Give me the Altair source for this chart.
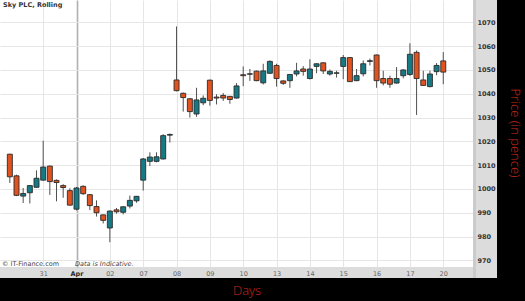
import altair as alt
import pandas as pd

# ---- data ----
opens = [1014.6, 1005.5, 997.0, 998.4, 1000.7, 1003.7, 1009.6, 1003.6, 1001.4, 999.3,
         991.5, 1001.1, 997.6, 992.6, 989.1, 983.6, 991.2, 990.2, 992.8, 995.0,
         1003.7, 1011.6, 1011.6, 1012.6, 1022.6, 1045.8, 1040.2, 1037.9, 1031.5, 1036.2,
         1045.7, 1038.6, 1039.3, 1038.9, 1038.2, 1048.0, 1048.2, 1049.5, 1044.6, 1048.6,
         1051.9, 1045.4, 1045.5, 1048.3, 1050.4, 1046.4, 1051.5, 1053.0, 1048.3, 1048.6,
         1051.5, 1055.2, 1045.5, 1048.4, 1053.6, 1056.3, 1046.4, 1046.4, 1044.5, 1047.6,
         1048.1, 1057.4, 1045.8, 1043.0, 1049.3, 1053.8]
highs = [1014.8, 1006.0, 1000.4, 1001.6, 1007.8, 1020.3, 1009.8, 1004.0, 1002.0, 1000.3,
         1000.8, 1001.5, 997.8, 995.2, 989.3, 991.0, 992.0, 992.7, 997.2, 997.0,
         1013.0, 1015.4, 1015.4, 1023.0, 1023.3, 1068.3, 1040.5, 1038.2, 1042.5, 1039.3,
         1046.0, 1039.8, 1040.3, 1039.1, 1044.5, 1051.5, 1050.4, 1049.7, 1052.6, 1054.0,
         1052.6, 1045.6, 1048.3, 1053.0, 1051.6, 1054.5, 1052.8, 1053.2, 1050.2, 1049.7,
         1056.3, 1055.4, 1050.4, 1054.0, 1054.8, 1056.5, 1049.7, 1047.6, 1051.2, 1050.3,
         1061.2, 1058.2, 1049.7, 1049.7, 1052.9, 1057.5]
lows = [1002.5, 997.0, 994.1, 993.9, 1000.5, 1003.5, 997.5, 994.8, 996.3, 993.0,
        991.0, 997.5, 991.1, 988.4, 985.5, 977.6, 989.6, 989.3, 991.8, 994.2,
        999.3, 1009.6, 1011.2, 1012.4, 1019.5, 1041.0, 1032.5, 1030.0, 1030.3, 1035.2,
        1035.0, 1035.5, 1037.0, 1035.8, 1038.0, 1043.2, 1045.4, 1045.3, 1043.9, 1048.4,
        1043.0, 1043.7, 1042.5, 1047.3, 1047.6, 1046.0, 1048.6, 1048.3, 1047.6, 1046.8,
        1046.1, 1045.0, 1045.3, 1047.3, 1051.9, 1042.5, 1043.5, 1042.5, 1044.3, 1046.5,
        1047.5, 1031.1, 1043.3, 1042.7, 1047.8, 1044.0]
closes = [1005.1, 997.3, 998.1, 1001.4, 1004.5, 1009.2, 1003.1, 1002.7, 1000.6, 993.2,
          1000.4, 998.0, 993.0, 990.0, 986.8, 990.7, 990.4, 992.5, 995.2, 996.9,
          1012.6, 1013.4, 1013.5, 1022.4, 1022.9, 1041.3, 1038.4, 1032.5, 1037.4, 1038.1,
          1037.2, 1038.2, 1038.2, 1037.6, 1043.3, 1047.6, 1048.4, 1045.5, 1049.6, 1053.6,
          1046.4, 1044.4, 1048.1, 1049.6, 1049.4, 1050.4, 1052.6, 1049.6, 1049.4, 1048.8,
          1055.2, 1045.1, 1047.6, 1052.6, 1053.9, 1045.5, 1044.5, 1044.0, 1046.4, 1050.0,
          1056.6, 1046.4, 1043.5, 1048.3, 1051.9, 1049.1]

tick_idx = [5, 10, 15, 20, 25, 30, 35, 40, 45, 50, 55, 60, 65]
tick_labels = ["31", "Apr", "02", "07", "08", "09", "10", "13", "14", "15", "16", "17", "20"]
month_tick = 10
price_ticks = [970, 980, 990, 1000, 1010, 1020, 1030, 1040, 1050, 1060, 1070]

title_text = "Sky PLC, Rolling"
footer_left = "\u00a9 IT-Finance.com"
footer_right = "Data is Indicative."
y_title = "Price (in pence)"
x_title = "Days"

# ---- tables ----
df = pd.DataFrame({
    "i": list(range(len(opens))),
    "open": opens, "high": highs, "low": lows, "close": closes,
})
df["dir"] = ["up" if c >= o else "down" for o, c in zip(opens, closes)]

label_expr = ""
for v, t in zip(tick_idx, tick_labels):
    label_expr += f"datum.value == {v} ? '{t}' : "
label_expr += "''"

is_month = f"datum.value == {month_tick}"

x_scale = alt.Scale(domain=[-0.725, 68.71], nice=False, zero=False)
y_scale = alt.Scale(domain=[967.2, 1079.4], nice=False, zero=False)

x_axis = alt.Axis(
    orient="bottom", values=tick_idx, labelExpr=label_expr, title=None,
    ticks=False, domain=False, grid=True,
    gridColor={"condition": {"test": is_month, "value": "#b0b0b0"}, "value": "#e6e6e6"},
    gridWidth={"condition": {"test": is_month, "value": 1.6}, "value": 1},
    labelFont="DejaVu Sans", labelFontSize=6.5,
    labelColor={"condition": {"test": is_month, "value": "#2a2a2a"}, "value": "#666666"},
    labelFontWeight={"condition": {"test": is_month, "value": "bold"}, "value": "normal"},
    labelPadding=3, labelOverlap=False,
)
y_axis = alt.Axis(
    orient="right", values=price_ticks, format="d", title=None, ticks=False, domain=False,
    grid=True, gridColor="#e6e6e6", gridWidth=1,
    labelFont="DejaVu Sans", labelFontSize=6.5, labelFontWeight="bold",
    labelColor="#333333", labelPadding=4, labelOverlap=False,
)

X = alt.X("i:Q", scale=x_scale, axis=x_axis)

wicks = alt.Chart(df).mark_rule(color="#505050", strokeWidth=1).encode(
    x=X,
    y=alt.Y("low:Q", scale=y_scale, axis=y_axis),
    y2="high:Q",
)

bodies = alt.Chart(df).mark_bar(size=5, stroke="#2b2b2b", strokeWidth=0.9).encode(
    x=X,
    y=alt.Y("open:Q", scale=y_scale, axis=y_axis),
    y2="close:Q",
    color=alt.Color("dir:N", scale=alt.Scale(domain=["up", "down"],
                                             range=["#177983", "#e0521f"]), legend=None),
)

one = pd.DataFrame({"k": [0]})

black_right = alt.Chart(one).mark_rect(color="black").encode(
    x=alt.value(497), x2=alt.value(525), y=alt.value(0), y2=alt.value(301))
black_bottom = alt.Chart(one).mark_rect(color="black").encode(
    x=alt.value(0), x2=alt.value(525), y=alt.value(278), y2=alt.value(301))
shade = alt.Chart(one).mark_rect(color="#cbcbcb").encode(
    x=alt.value(473), x2=alt.value(476), y=alt.value(0), y2=alt.value(278))

def label(text, x, y, **kw):
    return alt.Chart(pd.DataFrame({"t": [text]})).mark_text(**kw).encode(
        text="t:N", x=alt.value(x), y=alt.value(y))

title = label(title_text, 3, 4.5, align="left", baseline="middle", font="DejaVu Sans",
              fontSize=6.5, fontWeight="bold", color="#333333")
foot1 = label(footer_left, 2, 264, align="left", baseline="middle", font="DejaVu Sans",
              fontSize=6.5, color="#444444")
foot2 = label(footer_right, 75, 264, align="left", baseline="middle", font="DejaVu Sans",
              fontSize=6.5, fontStyle="italic", color="#444444")
ytitle = label(y_title, 515, 133, align="center", baseline="middle", angle=90,
               font="Open Sans", fontSize=13, fontWeight=300, color="#cc2a1e")
xtitle = label(x_title, 247, 291, align="center", baseline="middle",
               font="Open Sans", fontSize=13, fontWeight=300, color="#cc2a1e")

chart = alt.layer(
    shade, wicks, bodies, title, foot1, foot2, black_right, black_bottom, ytitle, xtitle
).properties(
    width=473, height=267,
    autosize=alt.AutoSizeParams(type="none"),
    padding={"left": 0, "top": 0, "right": 52, "bottom": 34},
    background="#dcdcdc",
).configure_view(fill="white", strokeWidth=0)

chart.save("out.html", embed_options={"renderer": "svg", "actions": False})
